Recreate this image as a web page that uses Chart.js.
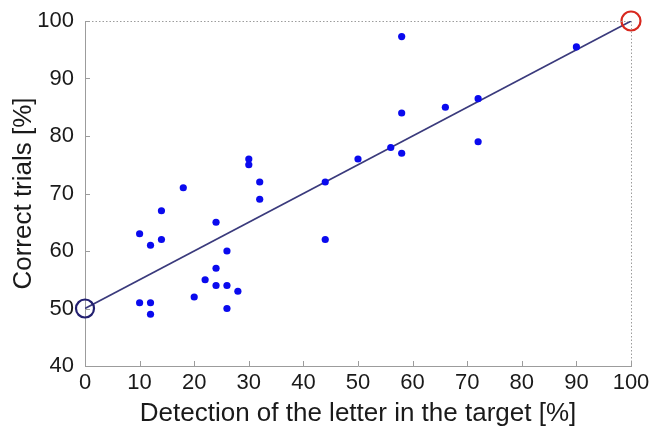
<!DOCTYPE html>
<html>
<head>
<meta charset="utf-8">
<script src="https://cdn.jsdelivr.net/npm/chart.js@4.4.1/dist/chart.umd.min.js"></script>
<style>
  html, body { margin: 0; padding: 0; background: #fff; }
  #chart { display: block; }
</style>
</head>
<body>
<canvas id="chart" width="667" height="429"></canvas>
<script>
// data
const detection = [10, 14, 18, 12, 14, 24, 10, 12, 12, 20, 22, 24, 24, 26, 26, 26, 28, 30, 30, 32, 32, 44, 44, 50, 56, 58, 58, 58, 66, 72, 72, 90];
const correct   = [63, 67, 71, 61, 62, 65, 51, 51, 49, 52, 55, 57, 54, 54, 60, 50, 53, 76, 75, 72, 69, 72, 62, 76, 78, 77, 84, 97.3, 85, 86.5, 79, 95.5];

// regression line and the two anchor circles
const fitX = [0, 100];
const fitY = [50, 100];
const startPoint = [0, 50];
const endPoint = [100, 100];

const xTicks = [0, 10, 20, 30, 40, 50, 60, 70, 80, 90, 100];
const yTicks = [40, 50, 60, 70, 80, 90, 100];

const axisGrey = '#9c9c9c';

// small inward ticks + dotted top/right frame (matlab style)
const frameAndTicks = {
  id: 'frameAndTicks',
  afterDraw(chart) {
    const ctx = chart.ctx;
    const xs = chart.scales.x;
    const ys = chart.scales.y;
    const bottom = ys.getPixelForValue(40);
    const top = ys.getPixelForValue(100);
    const left = xs.getPixelForValue(0);
    const right = xs.getPixelForValue(100);
    ctx.save();
    ctx.strokeStyle = axisGrey;
    ctx.lineWidth = 1;
    xTicks.forEach(v => {
      const px = Math.round(xs.getPixelForValue(v)) + 0.5;
      ctx.beginPath();
      ctx.moveTo(px, bottom);
      ctx.lineTo(px, bottom - 5);
      ctx.stroke();
    });
    yTicks.forEach(v => {
      const py = Math.round(ys.getPixelForValue(v)) + 0.5;
      ctx.beginPath();
      ctx.moveTo(left, py);
      ctx.lineTo(left + 5, py);
      ctx.stroke();
    });
    ctx.setLineDash([1.5, 2]);
    ctx.beginPath();
    ctx.moveTo(left, Math.round(top) + 0.5);
    ctx.lineTo(right, Math.round(top) + 0.5);
    ctx.moveTo(Math.round(right) + 0.5, top);
    ctx.lineTo(Math.round(right) + 0.5, bottom);
    ctx.stroke();
    ctx.restore();
  }
};

const ctx = document.getElementById('chart').getContext('2d');
new Chart(ctx, {
  type: 'scatter',
  data: {
    datasets: [
      {
        label: 'fit',
        type: 'line',
        data: fitX.map((x, i) => ({ x: x, y: fitY[i] })),
        borderColor: '#3a3a7c',
        borderWidth: 1.6,
        pointRadius: 0,
        fill: false,
        order: 3
      },
      {
        label: 'trials',
        data: detection.map((x, i) => ({ x: x, y: correct[i] })),
        backgroundColor: '#0a0aee',
        borderColor: '#0a0aee',
        pointRadius: 3.6,
        borderWidth: 0,
        clip: false,
        order: 2
      },
      {
        label: 'start',
        data: [{ x: startPoint[0], y: startPoint[1] }],
        backgroundColor: 'rgba(0,0,0,0)',
        borderColor: '#232070',
        pointRadius: 9,
        borderWidth: 2.2,
        clip: false,
        order: 1
      },
      {
        label: 'end',
        data: [{ x: endPoint[0], y: endPoint[1] }],
        backgroundColor: 'rgba(0,0,0,0)',
        borderColor: '#d8281e',
        pointRadius: 9.5,
        borderWidth: 2.2,
        clip: false,
        order: 1
      }
    ]
  },
  options: {
    responsive: false,
    animation: false,
    layout: { padding: { left: 0, right: 36, top: 21, bottom: 0 } },
    plugins: {
      legend: { display: false },
      tooltip: { enabled: false }
    },
    scales: {
      x: {
        type: 'linear',
        min: 0,
        max: 100,
        afterFit(scale) {
          scale.height = 63;
          scale.paddingLeft = 0;
          scale.paddingRight = 0;
        },
        afterBuildTicks(scale) { scale.ticks = xTicks.map(v => ({ value: v })); },
        grid: { display: false, drawTicks: false },
        border: { display: true, color: axisGrey, width: 1 },
        ticks: {
          padding: 4,
          color: '#1a1a1a',
          maxRotation: 0,
          font: { family: 'Liberation Sans, Arial, sans-serif', size: 22 }
        },
        title: {
          display: true,
          text: 'Detection of the letter in the target [%]',
          color: '#1a1a1a',
          padding: { top: 0, bottom: 0 },
          font: { family: 'Liberation Sans, Arial, sans-serif', size: 26 }
        }
      },
      y: {
        type: 'linear',
        min: 40,
        max: 100,
        afterFit(scale) {
          scale.width = 85;
          scale.paddingTop = 0;
          scale.paddingBottom = 0;
        },
        afterBuildTicks(scale) { scale.ticks = yTicks.map(v => ({ value: v })); },
        grid: { display: false, drawTicks: false },
        border: { display: true, color: axisGrey, width: 1 },
        ticks: {
          padding: 11,
          color: '#1a1a1a',
          font: { family: 'Liberation Sans, Arial, sans-serif', size: 22 }
        },
        title: {
          display: true,
          text: 'Correct trials [%]',
          color: '#1a1a1a',
          padding: { top: 8, bottom: 0 },
          font: { family: 'Liberation Sans, Arial, sans-serif', size: 26 }
        }
      }
    }
  },
  plugins: [frameAndTicks]
});
</script>
</body>
</html>
